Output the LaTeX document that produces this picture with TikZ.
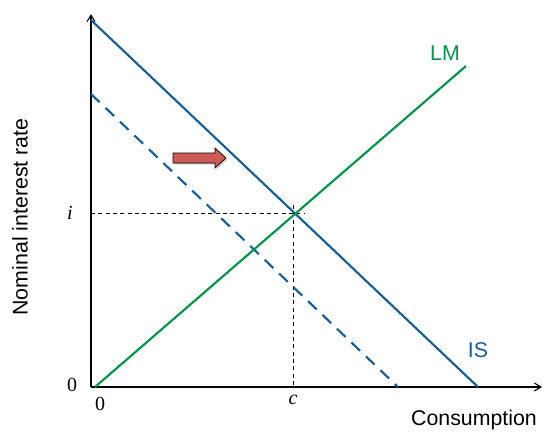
\documentclass[tikz,border=0pt]{standalone}
\usepackage{fontspec}
\setmainfont{Liberation Serif}
\setsansfont{Liberation Sans}
\usepackage{xcolor}
\usetikzlibrary{arrows.meta, positioning, shadows}

\definecolor{isblue}{HTML}{145E9C}
\definecolor{lmgreen}{HTML}{00964A}
\definecolor{shiftred}{HTML}{CD5B57}

\begin{document}
\begin{tikzpicture}[
        x=0.75pt, y=-0.75pt,
        axis/.style={-{Straight Barb[length=5pt, width=6pt]}, line width=0.8pt},
        curve/.style={line width=1.6pt},
        guide/.style={dashed, line width=0.6pt, dash pattern=on 3pt off 2.5pt},
        lbl/.style={font=\sffamily\fontsize{16}{19}\selectfont},
        val/.style={font=\fontsize{15}{18}\selectfont}
    ]
        \useasboundingbox (0,0) rectangle (544,433);

        % axes
        \coordinate (origin) at (91,387);
        \coordinate (ytop) at (91,14);
        \coordinate (xend) at (542,387);
        \draw[axis] (origin) -- (ytop);
        \draw[axis] (origin) -- (xend);

        % IS and LM
        \coordinate (is1) at (91,20);
        \coordinate (is2) at (478,387);
        \coordinate (isd1) at (91,94);
        \coordinate (isd2) at (398,387);
        \coordinate (lm1) at (95,387);
        \coordinate (lm2) at (466,66);
        \coordinate (eq) at (293,213);

        \draw[guide] (91,213) -- (305,213);
        \draw[guide] (293,205) -- (293,387);

        \draw[curve, isblue] (is1) -- (is2);
        \draw[curve, isblue, dash pattern=on 9pt off 6pt] (isd1) -- (isd2);
        \draw[curve, lmgreen] (lm1) -- (lm2);

        % shift arrow
        \coordinate (shift) at (173,158);
        \draw[fill=shiftred, line width=0.5pt, drop shadow={opacity=0.35, shadow xshift=1.2pt, shadow yshift=-1.2pt}]
            (shift) ++(0,-5) -- ++(42,0) -- ++(0,-5) -- ++(11,10) -- ++(-11,10) -- ++(0,-5) -- ++(-42,0) -- cycle;

        % labels
        \node[lbl, lmgreen] (lmlabel) at (445,53) {LM};
        \node[lbl, isblue] (islabel) at (478,350) {IS};
        \node[lbl] (xlabel) at (474,420) {Consumption};
        \node[lbl, rotate=90] (ylabel) at (20,217) {Nominal interest rate};
        \node[val] (ilabel) at (70,213) {\textit{i}};
        \node[val] (clabel) at (293,400) {\textit{c}};
        \node[val] (yzero) at (72,385) {0};
        \node[val] (xzero) at (100,404) {0};
    \end{tikzpicture}
\end{document}
